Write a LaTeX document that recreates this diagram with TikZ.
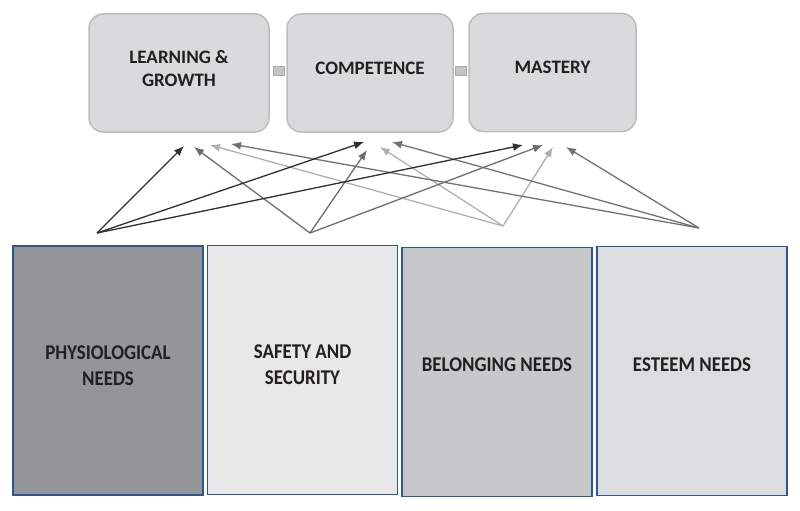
\documentclass[tikz,border=0pt]{standalone}
\usepackage{fontspec}
\setmainfont{Carlito}
\newfontfamily\condf[FakeStretch=0.9]{Carlito}
\usetikzlibrary{arrows.meta}
\definecolor{topfill}{HTML}{D9DADB}
\definecolor{topline}{HTML}{BDBDBD}
\definecolor{txt}{HTML}{231F20}
\definecolor{blueline}{HTML}{2F5597}
\definecolor{fa}{HTML}{939598}
\definecolor{fb}{HTML}{E8E8E9}
\definecolor{fc}{HTML}{C7C8CA}
\definecolor{fd}{HTML}{DCDDDF}
\definecolor{ca}{HTML}{303030}
\definecolor{cb}{HTML}{6D6D6D}
\definecolor{cc}{HTML}{B0B0B0}
\definecolor{cd}{HTML}{727272}
\tikzset{
  topbox/.style={draw=topline, line width=1.5pt, fill=topfill, rounded corners=14pt, minimum height=118pt, inner sep=0pt},
  toptext/.style={text=txt, font=\bfseries\fontsize{19}{23}\selectfont, align=center, inner sep=0pt},
  sqbox/.style={draw=topline!90!black, line width=0.8pt, fill=topfill!90!black, minimum width=11pt, minimum height=9pt, inner sep=0pt},
  needbox/.style={draw=blueline, line width=1.8pt, minimum width=190pt, minimum height=249pt, inner sep=0pt},
  needtext/.style={text=txt, font=\condf\bfseries\fontsize{21}{26}\selectfont, align=center, inner sep=0pt},
  arr/.style={line width=1.3pt, -{Latex[length=10pt,width=8pt]}}
}
\begin{document}
\begin{tikzpicture}[x=1pt,y=-1pt]
\useasboundingbox (0,0) rectangle (800,511);
% top boxes
\node[topbox, minimum width=180pt] (lg) at (179,73) {};
\node[topbox, minimum width=166pt] (comp) at (370,73) {};
\node[topbox, minimum width=167pt] (mast) at (552.5,72.5) {};
\node[toptext] (lgt) at ([yshift=4pt]lg.center) {LEARNING \&\\GROWTH};
\node[toptext] (compt) at ([yshift=5pt]comp.center) {COMPETENCE};
\node[toptext] (mastt) at ([yshift=5pt]mast.center) {MASTERY};
\node[sqbox] (sq1) at (278.5,70.5) {};
\node[sqbox] (sq2) at (460.5,70.5) {};
% bottom boxes
\node[needbox, fill=fa] (phys) at (108,370.5) {};
\node[needbox, fill=fb] (safe) at (302.5,370) {};
\node[needbox, fill=fc] (belo) at (497,372) {};
\node[needbox, fill=fd] (este) at (692,371) {};
\node[needtext] (physt) at ([yshift=5pt]phys.center) {PHYSIOLOGICAL\\NEEDS};
\node[needtext] (safet) at ([yshift=5pt]safe.center) {SAFETY AND\\SECURITY};
\node[needtext] (belot) at ([yshift=7pt]belo.center) {BELONGING NEEDS};
\node[needtext] (estet) at ([yshift=6pt]este.center) {ESTEEM NEEDS};
% arrow sources
\coordinate (p1) at (97,233);
\coordinate (p2) at (310,233);
\coordinate (p3) at (503,226);
\coordinate (p4) at (699,228);
% arrow tips
\coordinate (a1) at (184,146);
\coordinate (a2) at (364,142);
\coordinate (a3) at (523,145);
\coordinate (b1) at (194,147);
\coordinate (b2) at (367,150);
\coordinate (b3) at (543,145);
\coordinate (c1) at (210,145);
\coordinate (c2) at (380,147);
\coordinate (c3) at (553,147);
\coordinate (d1) at (231,144);
\coordinate (d2) at (392,142);
\coordinate (d3) at (566,147);
\draw[arr, cc] (p3) -- (c1);
\draw[arr, cc] (p3) -- (c2);
\draw[arr, cc] (p3) -- (c3);
\draw[arr, cd] (p4) -- (d1);
\draw[arr, cd] (p4) -- (d2);
\draw[arr, cd] (p4) -- (d3);
\draw[arr, cb] (p2) -- (b1);
\draw[arr, cb] (p2) -- (b2);
\draw[arr, cb] (p2) -- (b3);
\draw[arr, ca] (p1) -- (a1);
\draw[arr, ca] (p1) -- (a2);
\draw[arr, ca] (p1) -- (a3);
\end{tikzpicture}
\end{document}
